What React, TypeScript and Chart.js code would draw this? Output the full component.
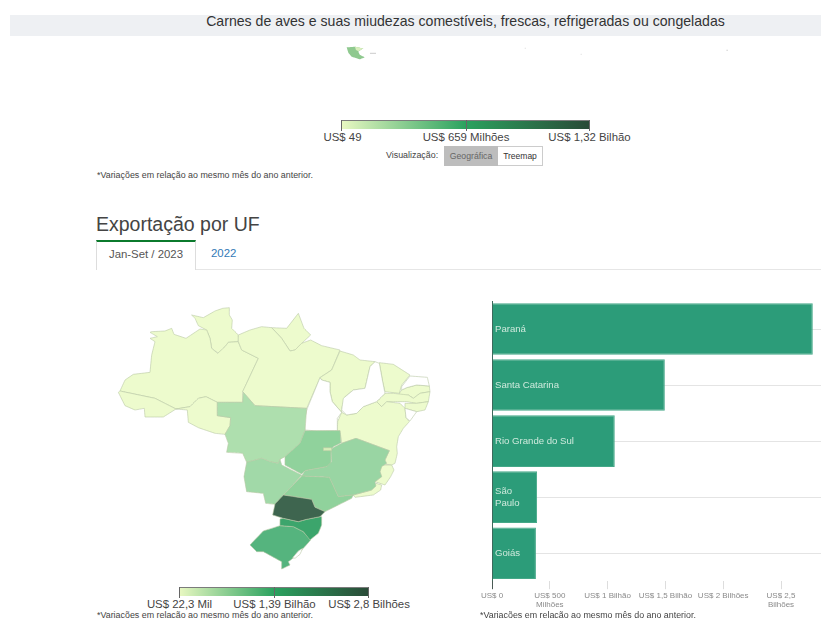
import React, { useEffect, useRef } from "react";
import { Chart, registerables } from "chart.js";

Chart.register(...registerables);

const FONT = '"Liberation Sans", Arial, sans-serif';

const title = "Carnes de aves e suas miudezas comestíveis, frescas, refrigeradas ou congeladas";
const footnote = "*Variações em relação ao mesmo mês do ano anterior.";
const topLegendLabels = ["US$ 49", "US$ 659 Milhões", "US$ 1,32 Bilhão"];
const mapLegendLabels = ["US$ 22,3 Mil", "US$ 1,39 Bilhão", "US$ 2,8 Bilhões"];

const barCategories: (string | string[])[] = ["Paraná", "Santa Catarina", "Rio Grande do Sul", ["São", "Paulo"], "Goiás"];
const barValues = [2.775, 1.495, 1.062, 0.39, 0.38];
const xTickValues = [0, 0.5, 1, 1.5, 2, 2.5];
const xTickLabels: (string | string[])[] = ["US$ 0", ["US$ 500", "Milhões"], "US$ 1 Bilhão", "US$ 1,5 Bilhão", "US$ 2 Bilhões", ["US$ 2,5", "Bilhões"]];

type Ring = number[][];
// State outlines, in map units
const RR: Ring = [[275,60],[310,68],[345,48],[368,40],[388,38],[388,60],[397,75],[395,100],[415,120],[415,140],[385,142],[375,155],[355,175],[335,160],[330,130],[320,105],[295,92],[285,70]];
const AM: Ring = [[155,110],[195,108],[215,100],[222,118],[258,130],[300,102],[320,105],[330,130],[335,160],[353,175],[375,155],[385,142],[415,140],[425,165],[475,190],[428,290],[428,322],[352,322],[318,305],[295,310],[270,335],[228,342],[165,310],[60,288],[75,255],[100,238],[150,232],[155,180],[165,140],[150,130],[172,125],[150,112]];
const AC: Ring = [[55,292],[60,288],[165,310],[228,342],[190,366],[135,366],[133,340],[105,345],[75,332]];
const RO: Ring = [[228,342],[270,335],[295,310],[318,305],[352,322],[352,362],[392,368],[390,392],[375,418],[345,415],[295,398],[265,382],[262,345]];
const AP: Ring = [[515,98],[560,100],[595,55],[612,100],[632,120],[605,145],[585,165],[570,168],[545,130]];
const PA: Ring = [[415,120],[450,105],[485,95],[515,98],[545,130],[570,168],[585,165],[605,145],[632,135],[665,152],[720,165],[695,225],[660,248],[620,340],[465,332],[430,292],[428,290],[475,190],[425,165],[415,140]];
const MT: Ring = [[430,292],[465,332],[620,340],[615,407],[600,445],[580,463],[555,485],[540,493],[535,505],[510,500],[485,490],[440,502],[428,475],[380,472],[385,445],[375,418],[390,392],[392,368],[352,362],[352,322],[428,322]];
const TO: Ring = [[665,255],[690,262],[690,290],[697,320],[725,352],[712,370],[712,407],[650,408],[615,405],[612,375],[622,340],[660,248]];
const MA: Ring = [[720,168],[760,180],[780,195],[825,200],[810,215],[795,280],[760,285],[735,305],[725,340],[725,352],[697,320],[690,290],[690,262],[665,255],[660,248],[695,225]];
const PI: Ring = [[825,200],[838,205],[848,260],[855,295],[830,320],[790,335],[770,355],[740,360],[725,345],[730,310],[760,285],[795,280],[810,215]];
const CE: Ring = [[838,203],[880,208],[930,240],[905,270],[898,295],[855,290],[848,260]];
const RN: Ring = [[905,275],[930,243],[982,247],[988,273],[950,270],[920,278],[905,285]];
const PB: Ring = [[898,295],[905,285],[920,278],[950,270],[988,273],[990,290],[960,295],[940,310],[925,300],[900,305]];
const PE: Ring = [[855,295],[880,295],[925,300],[940,310],[960,295],[990,290],[985,320],[950,325],[920,320],[880,320],[860,320],[845,335],[830,320]];
const AL: Ring = [[915,325],[950,325],[985,320],[975,345],[950,350],[915,340]];
const SE: Ring = [[915,340],[950,350],[930,378],[918,368]];
const BA: Ring = [[725,352],[740,360],[770,355],[790,335],[830,320],[845,335],[860,320],[900,325],[915,340],[918,368],[928,380],[910,400],[895,425],[890,455],[892,475],[885,505],[875,510],[850,507],[855,495],[868,467],[768,430],[725,445],[720,407],[712,407],[713,380]];
const ES: Ring = [[845,510],[875,510],[882,525],[872,545],[855,570],[825,560],[845,545],[840,530]];
const MG: Ring = [[725,445],[768,430],[868,467],[855,495],[860,505],[845,515],[840,530],[845,545],[825,560],[828,573],[815,585],[760,600],[715,605],[688,547],[605,543],[615,527],[680,515],[695,500],[693,465],[700,458]];
const RJ: Ring = [[760,600],[815,585],[828,565],[845,570],[842,585],[820,600],[765,607]];
const GO: Ring = [[615,407],[720,407],[723,443],[700,455],[693,465],[693,510],[680,515],[615,527],[605,537],[555,510],[555,485],[580,463],[600,445]];
const DF: Ring = [[670,458],[695,458],[695,467],[670,467]];
const MS: Ring = [[440,502],[485,490],[510,500],[535,505],[540,493],[545,510],[555,515],[605,540],[570,580],[550,600],[525,628],[497,625],[490,595],[440,590],[432,545]];
const SP: Ring = [[605,543],[688,547],[715,605],[760,600],[755,610],[725,625],[675,650],[645,637],[635,613],[550,600],[570,580]];
const PR: Ring = [[550,600],[635,613],[645,637],[675,650],[660,665],[620,673],[595,680],[550,670],[518,660],[525,627]];
const SC: Ring = [[540,672],[550,670],[595,680],[620,673],[660,665],[665,665],[665,690],[655,715],[630,735],[610,710],[580,695],[540,692]];
const RS: Ring = [[450,750],[490,708],[540,692],[580,695],[610,710],[632,735],[610,760],[585,785],[565,800],[570,810],[545,822],[545,800],[490,770],[470,770]];
const LAGOON: Ring = [[578,788],[595,768],[608,760],[600,778],[585,790]];

const PALE = "#edfbcd";
const WHITE = "#ffffff";
const mapStates: [Ring, string][] = [
  [RR, PALE], [AM, PALE], [AC, PALE], [RO, PALE], [AP, PALE], [PA, PALE],
  [MA, PALE], [CE, PALE], [PB, PALE], [PE, PALE], [AL, PALE], [BA, PALE], [ES, PALE], [RJ, PALE],
  [TO, WHITE], [PI, WHITE], [RN, WHITE], [SE, WHITE],
  [MT, "#aedfae"], [MS, "#a1d9a8"], [GO, "#90d29c"], [MG, "#99d5a3"], [SP, "#90d29c"], [DF, "#d6eeb8"],
  [RS, "#55b47e"], [SC, "#3ca56c"], [PR, "#3e654f"], [LAGOON, WHITE],
];

// Fragment of a second map, cut off at the top of the page
const CUT_DARK: Ring = [[80,22],[105,20],[130,25],[115,35],[120,45],[135,52],[120,58],[95,50],[85,38]];
const CUT_LIGHT: Ring = [[105,20],[130,25],[116,34],[108,30]];
const CUT_DASH: Ring = [[150,38],[168,38],[168,42],[150,42]];
const CUT_SPECK_A: Ring = [[614,23],[618,23],[618,26],[614,26]];
const CUT_SPECK_B: Ring = [[782,41],[785,41],[785,45],[782,45]];
const CUT_SPECK_C: Ring = [[1219,29],[1224,29],[1224,32],[1219,32]];
const cutStates: [Ring, string][] = [
  [CUT_DASH, "#d5d5d5"], [CUT_SPECK_A, "#e2e2e2"], [CUT_SPECK_B, "#e2e2e2"], [CUT_SPECK_C, "#d5d5d5"],
  [CUT_DARK, "#8fc98f"], [CUT_LIGHT, "#d9efbd"],
];

function GeoChart({ rings, left, top, width, height, border }: { rings: [Ring, string][]; left: number; top: number; width: number; height: number; border: string }) {
  const ref = useRef<HTMLCanvasElement>(null);
  useEffect(() => {
    const chart = new Chart(ref.current!, {
      type: "scatter",
      data: {
        datasets: rings.map(([ring, color], i) => ({
          data: [...ring, ring[0]].map(([x, y]) => ({ x, y })),
          showLine: true,
          fill: "shape",
          backgroundColor: color,
          borderColor: border,
          borderWidth: 1,
          pointRadius: 0,
          tension: 0.001,
          order: rings.length - i,
        })),
      } as any,
      options: {
        animation: false,
        responsive: false,
        layout: { padding: 0 },
        plugins: { legend: { display: false }, tooltip: { enabled: false } },
        scales: {
          x: { type: "linear", display: false, min: 0, max: width * 3 },
          y: { type: "linear", display: false, reverse: true, min: 0, max: height * 3 },
        },
      },
    });
    return () => chart.destroy();
  }, []);
  return <canvas ref={ref} width={width} height={height} style={{ position: "absolute", left, top, display: "block" }} />;
}

function BarPanel() {
  const ref = useRef<HTMLCanvasElement>(null);
  useEffect(() => {
    const chart = new Chart(ref.current!, {
      type: "bar",
      data: {
        labels: barCategories as any,
        datasets: [{
          data: barValues,
          backgroundColor: "#2c9c79",
          borderColor: "#45a888",
          borderWidth: 1,
          categoryPercentage: 1,
          barPercentage: 0.92,
        }],
      },
      options: {
        indexAxis: "y",
        animation: false,
        responsive: false,
        layout: { padding: { left: 12, right: 0, top: 6, bottom: 1.2 } },
        plugins: { legend: { display: false }, tooltip: { enabled: false } },
        scales: {
          x: {
            type: "linear",
            min: 0,
            max: 2.846,
            afterBuildTicks: (axis: any) => { axis.ticks = xTickValues.map((value) => ({ value })); },
            afterFit: (s: any) => { s.paddingLeft = 0; s.paddingRight = 0; },
            grid: {
              drawOnChartArea: true,
              drawTicks: true,
              tickLength: 8,
              color: (c: any) => (c.index === 0 ? "#3d6a5c" : "rgba(0,0,0,0)"),
              tickColor: (c: any) => (c.index === 0 ? "#4a5a54" : "#dddddd"),
              z: 1,
            },
            border: { display: false },
            ticks: {
              autoSkip: false,
              maxRotation: 0,
              color: "#8a8a8a",
              padding: 2,
              font: { family: FONT, size: 8, lineHeight: 1.1 },
              callback: (_v: any, i: number) => xTickLabels[i],
            },
          },
          y: {
            type: "category",
            afterFit: (s: any) => { s.width = 0; s.paddingTop = 0; s.paddingBottom = 0; },
            grid: { offset: false, color: "#e4e4e4", drawTicks: false, lineWidth: 1 },
            border: { display: false },
            ticks: { mirror: true, z: 1, padding: 3, color: "#cfeadd", font: { family: FONT, size: 9.6 }, autoSkip: false },
          },
        },
      },
    });
    return () => chart.destroy();
  }, []);
  return <canvas ref={ref} width={341} height={317} style={{ position: "absolute", left: 480, top: 295, display: "block" }} />;
}

function Txt({ x, y, size, color = "#333", align = "left", weight, children }: any) {
  const tx = align === "center" ? "-50%" : "0";
  return (
    <div style={{ position: "absolute", left: x, top: y, transform: `translate(${tx},-50%)`, fontFamily: FONT, fontSize: size, color, whiteSpace: "nowrap", lineHeight: 1, fontWeight: weight }}>
      {children}
    </div>
  );
}

function ColorLegend({ left, width, top, labels, centers }: { left: number; width: number; top: number; labels: string[]; centers: number[] }) {
  return (
    <>
      <div style={{ position: "absolute", left, top, width, height: 8, background: "linear-gradient(to right,#e9f8c2 0%,#2ba25f 50%,#2a4a37 100%)", borderTop: "1px solid #7b7b7b" }} />
      {[0, 0.5, 1].map((f) => (
        <div key={f} style={{ position: "absolute", left: left + f * width - (f === 1 ? 1 : 0), top, width: 1, height: 11, background: "#666" }} />
      ))}
      {labels.map((l, i) => (
        <Txt key={l} x={centers[i]} y={top + 18} size={11.4} align="center" color="#444">{l}</Txt>
      ))}
    </>
  );
}

export default function App() {
  return (
    <div style={{ position: "absolute", left: 0, top: 0, width: 821, height: 618, overflow: "hidden", background: "#fff", filter: "blur(0.5px)" }}>
      <div style={{ position: "absolute", left: 10, top: 15, width: 811, height: 21, background: "#eef0f3" }} />
      <Txt x={465.5} y={21} size={14.1} align="center" color="#333">{title}</Txt>

      <GeoChart rings={cutStates} left={320} top={40} width={420} height={30} border="rgba(0,0,0,0)" />

      <ColorLegend left={341} width={249} top={120} labels={topLegendLabels} centers={[342.5, 466, 589.5]} />

      <Txt x={386} y={155} size={8.9} color="#444">Visualização:</Txt>
      <div style={{ position: "absolute", left: 444, top: 146, width: 54, height: 20, background: "#bdbdbd" }} />
      <div style={{ position: "absolute", left: 498, top: 146, width: 44, height: 18, border: "1px solid #cccccc", borderLeft: "none" }} />
      <Txt x={471} y={155.5} size={8.7} align="center" color="#666">Geográfica</Txt>
      <Txt x={520} y={155.5} size={8.5} align="center" color="#333">Treemap</Txt>
      <Txt x={97} y={174.5} size={8.9} color="#444">{footnote}</Txt>

      <Txt x={96} y={225} size={19.5} color="#444">Exportação por UF</Txt>
      <div style={{ position: "absolute", left: 96, top: 269, width: 725, height: 1, background: "#e6e6e6" }} />
      <div style={{ position: "absolute", left: 96, top: 240, width: 100, height: 30, background: "#fff", borderTop: "2px solid #0b7a2c", borderLeft: "1px solid #dddddd", borderRight: "1px solid #dddddd", boxSizing: "border-box" }} />
      <Txt x={146} y={255} size={11.4} align="center" color="#555">Jan-Set / 2023</Txt>
      <Txt x={211} y={254} size={11.4} color="#337ab7">2022</Txt>

      <GeoChart rings={mapStates} left={100} top={295} width={340} height={290} border="rgba(185,200,165,0.6)" />
      <BarPanel />

      <ColorLegend left={179} width={190} top={587} labels={mapLegendLabels} centers={[179.5, 274.5, 369]} />
      <Txt x={97} y={614.5} size={8.9} color="#444">{footnote}</Txt>
      <Txt x={480} y={615} size={8.9} color="#444">{footnote}</Txt>
    </div>
  );
}
